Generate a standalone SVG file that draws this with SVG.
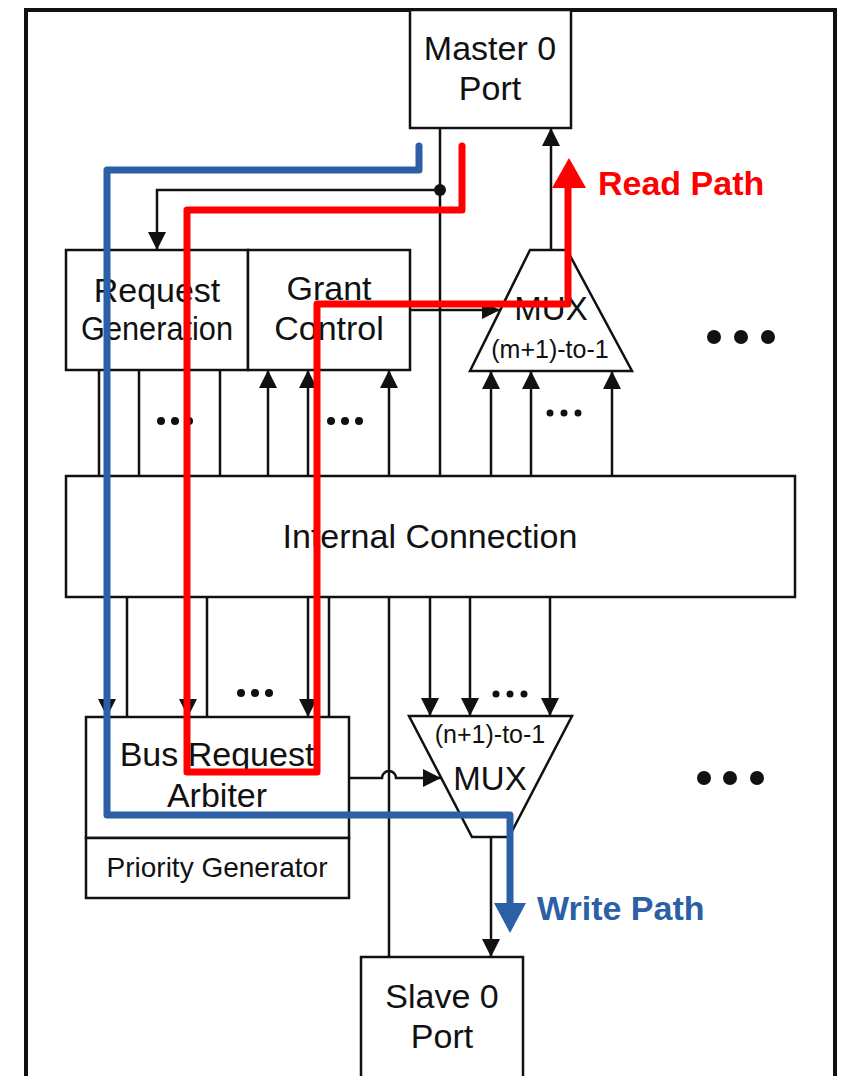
<svg xmlns="http://www.w3.org/2000/svg" width="841" height="1076" viewBox="0 0 841 1076">
<style>
.box{fill:#fff;stroke:#111;stroke-width:2.5}
.ln{fill:none;stroke:#111;stroke-width:2.5}
.t{font-family:"Liberation Sans",Arial,sans-serif;fill:#111;text-anchor:middle}
.big{font-size:34px}
.sm{font-size:25px}
.lbl{font-family:"Liberation Sans",Arial,sans-serif;font-weight:bold;font-size:34px}
.red{fill:none;stroke:#FF0000;stroke-width:7;stroke-linejoin:round;stroke-linecap:round}
.blue{fill:none;stroke:#2B5FA6;stroke-width:7;stroke-linejoin:round;stroke-linecap:round}
</style>
<defs>
<marker id="ah" markerUnits="userSpaceOnUse" markerWidth="18" markerHeight="18" refX="18" refY="9" orient="auto">
<path d="M0,0 L18,9 L0,18 z" fill="#111"/>
</marker>
</defs>
<rect width="841" height="1076" fill="#fff"/>
<g id="frame">
<path d="M26,1080 L26,10 L835,10 L835,1080" fill="none" stroke="#111" stroke-width="4"/>
</g>
<g id="master0">
<rect class="box" x="410" y="10" width="161" height="118"/>
<text class="t big" x="490" y="60">Master 0</text>
<text class="t big" x="490" y="100">Port</text>
</g>
<g id="reqgen">
<rect class="box" x="66" y="250" width="182" height="120"/>
<text class="t big" x="157" y="302">Request</text>
<text class="t big" x="157" y="340" textLength="152" lengthAdjust="spacingAndGlyphs">Generation</text>
</g>
<g id="grant">
<rect class="box" x="248" y="250" width="162" height="120"/>
<text class="t big" x="329" y="300">Grant</text>
<text class="t big" x="329" y="340">Control</text>
</g>
<g id="mux1">
<path class="box" d="M530,250 L567,250 L632,371 L470,371 Z"/>
<text class="t" style="font-size:33px" x="551" y="320">MUX</text>
<text class="t sm" x="550" y="358">(m+1)-to-1</text>
</g>
<g id="internal">
<rect class="box" x="66" y="476" width="729" height="121"/>
<text class="t big" x="430" y="548">Internal Connection</text>
</g>
<g id="arbiter">
<rect class="box" x="86" y="717" width="263" height="121"/>
<text class="t big" x="217" y="766">Bus Request</text>
<text class="t big" x="217" y="807">Arbiter</text>
</g>
<g id="priority">
<rect class="box" x="86" y="838" width="263" height="60"/>
<text class="t" style="font-size:28px" x="217" y="877">Priority Generator</text>
</g>
<g id="mux2">
<path class="box" d="M409,716 L572,716 L509,837 L472,837 Z"/>
<text class="t sm" x="490" y="743">(n+1)-to-1</text>
<text class="t" style="font-size:33px" x="490" y="790">MUX</text>
</g>
<g id="slave0">
<rect class="box" x="361" y="957" width="162" height="130"/>
<text class="t big" x="442" y="1008">Slave 0</text>
<text class="t big" x="442" y="1048">Port</text>
</g>
<g id="connectors">
<path class="ln" d="M440,128 L440,476"/>
<circle cx="440" cy="190" r="6" fill="#111"/>
<path class="ln" d="M440,190 L157,190 L157,250" marker-end="url(#ah)"/>
<path class="ln" d="M551,250 L551,128" marker-end="url(#ah)"/>
<path class="ln" d="M410,310 L500,310" marker-end="url(#ah)"/>
<path class="ln" d="M99,370 L99,476 M139,370 L139,476 M220,370 L220,476"/>
<path class="ln" d="M268,476 L268,370" marker-end="url(#ah)"/>
<path class="ln" d="M308,476 L308,370" marker-end="url(#ah)"/>
<path class="ln" d="M389,476 L389,370" marker-end="url(#ah)"/>
<path class="ln" d="M491,476 L491,371" marker-end="url(#ah)"/>
<path class="ln" d="M531,476 L531,371" marker-end="url(#ah)"/>
<path class="ln" d="M612,476 L612,371" marker-end="url(#ah)"/>
<path class="ln" d="M107,597 L107,717" marker-end="url(#ah)"/>
<path class="ln" d="M188,597 L188,717" marker-end="url(#ah)"/>
<path class="ln" d="M308,597 L308,717" marker-end="url(#ah)"/>
<path class="ln" d="M127,597 L127,717 M207,597 L207,717 M329,597 L329,717"/>
<path class="ln" d="M389,597 L389,957"/>
<path class="ln" d="M430,597 L430,716" marker-end="url(#ah)"/>
<path class="ln" d="M470,597 L470,716" marker-end="url(#ah)"/>
<path class="ln" d="M550,597 L550,716" marker-end="url(#ah)"/>
<path class="ln" d="M349,778 L382,778 A6,6 0 0 1 396,778 L441,778" marker-end="url(#ah)"/>
<path class="ln" d="M491,837 L491,957" marker-end="url(#ah)"/>
</g>
<g id="dots" fill="#111">
<circle cx="161" cy="421" r="4"/><circle cx="175" cy="421" r="4"/><circle cx="189" cy="421" r="4"/>
<circle cx="331" cy="421" r="4"/><circle cx="345" cy="421" r="4"/><circle cx="359" cy="421" r="4"/>
<circle cx="550" cy="413" r="3.5"/><circle cx="564" cy="413" r="3.5"/><circle cx="578" cy="413" r="3.5"/>
<circle cx="241" cy="693" r="4"/><circle cx="255" cy="693" r="4"/><circle cx="269" cy="693" r="4"/>
<circle cx="496" cy="694" r="3.5"/><circle cx="510" cy="694" r="3.5"/><circle cx="524" cy="694" r="3.5"/>
<circle cx="714" cy="337" r="7"/><circle cx="741" cy="337" r="7"/><circle cx="768" cy="337" r="7"/>
<circle cx="704" cy="778" r="7"/><circle cx="730" cy="778" r="7"/><circle cx="757" cy="778" r="7"/>
</g>
<g id="readpath">
<path class="red" d="M462,146 L462,210 L187,210 L187,772 L317,772 L317,304 L568,304 L568,186"/>
<path d="M552,188 L569,158 L586,188 Z" fill="#FF0000"/>
<text class="lbl" x="598" y="195" fill="#FF0000">Read Path</text>
</g>
<g id="writepath">
<path class="blue" d="M419,146 L419,170 L107,170 L107,815 L510,815 L510,905"/>
<path d="M494,903 L510,933 L526,903 Z" fill="#2B5FA6"/>
<text class="lbl" x="537" y="920" fill="#2B5FA6">Write Path</text>
</g>
</svg>
